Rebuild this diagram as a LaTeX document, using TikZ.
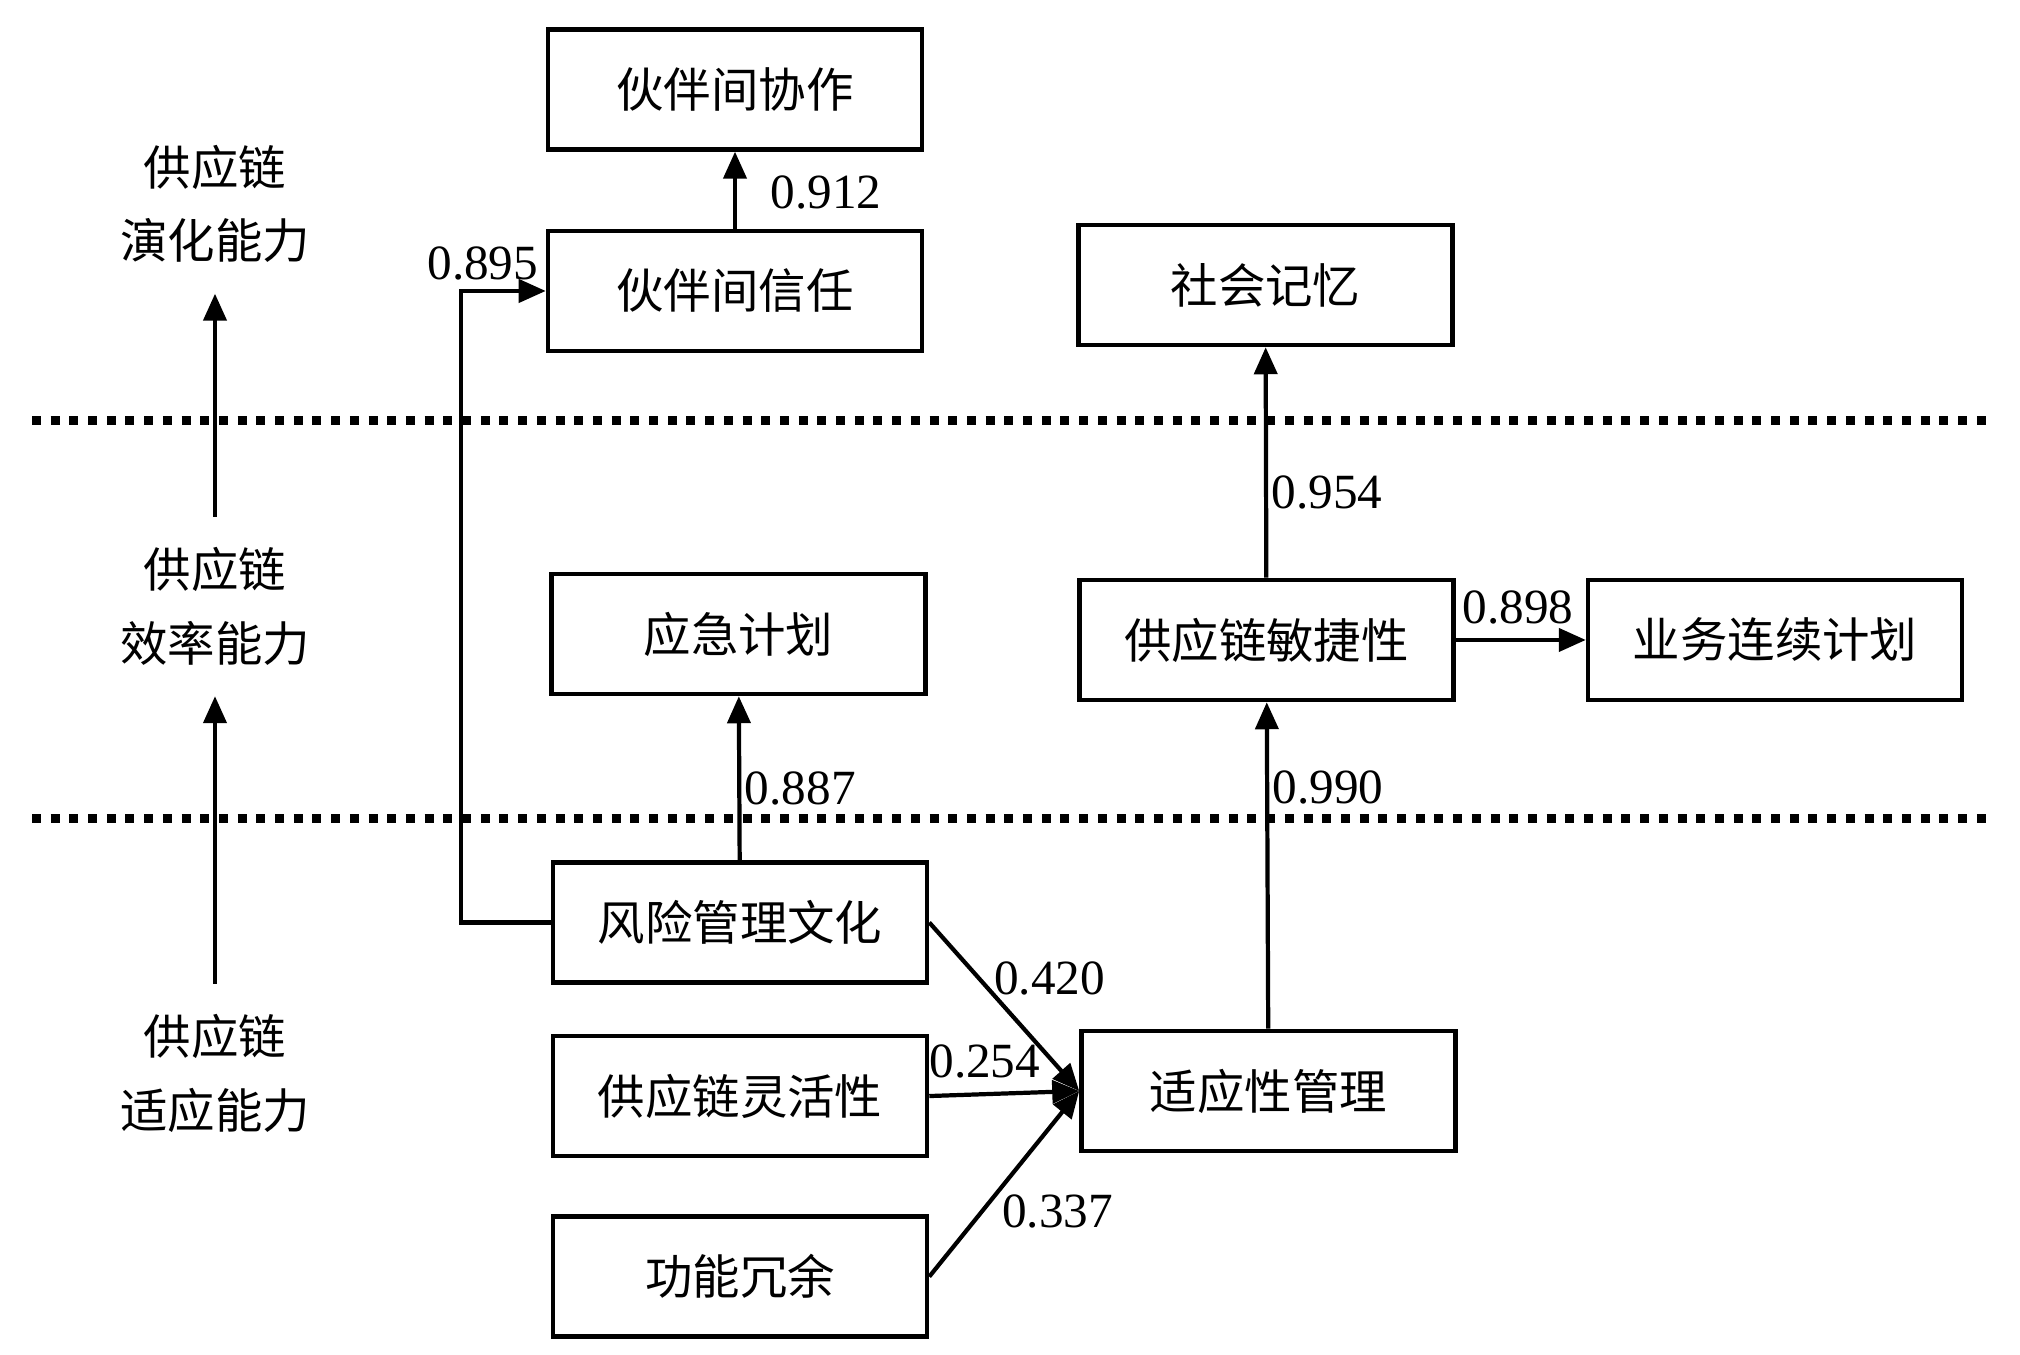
\documentclass[tikz,border=0pt]{standalone}
\usepackage{fontspec}
\setmainfont{Liberation Serif}
\newfontfamily\zh{Noto Sans CJK SC}
\usetikzlibrary{arrows.meta,positioning}

\begin{document}
\begin{tikzpicture}[
        box/.style={draw, line width=1.3pt, minimum width=3.74cm, minimum height=1.2cm, inner sep=0pt, font=\zh\fontsize{13.5}{16}\selectfont},
        lvl/.style={align=center, inner sep=0pt, font=\zh\fontsize{13.5}{21}\selectfont},
        num/.style={inner sep=1pt, font=\fontsize{14}{16}\selectfont},
        arr/.style={line width=1.2pt, -{Triangle[length=0.27cm,width=0.23cm]}},
        sep/.style={line width=0.09cm, dash pattern=on 0.09cm off 0.097cm},
        node distance=0.77cm
    ]
    \useasboundingbox (0,0) rectangle (20.2,13.55);
    \foreach \y in {9.34,5.36} {
        \draw[sep] (0.32,\y) -- (19.95,\y);
    }
    \node[lvl] (evo) at (2.15,11.51) {供应链\\演化能力};
    \node[lvl] (eff) at (2.15,7.485) {供应链\\效率能力};
    \node[lvl] (adp) at (2.15,2.815) {供应链\\适应能力};
    \draw[arr, shorten <=0.3cm, shorten >=0.3cm] (eff) -- (evo);
    \draw[arr, shorten <=0.3cm, shorten >=0.3cm] (adp) -- (eff);

    \node[box] (trust) at (7.35,10.64) {伙伴间信任};
    \node[box, above=of trust] (collab) {伙伴间协作};
    \node[box] (social) at (12.655,10.70) {社会记忆};
    \node[box] (emerg) at (7.385,7.21) {应急计划};
    \node[box] (agile) at (12.665,7.15) {供应链敏捷性};
    \node[box, right=1.3cm of agile] (bcp) {业务连续计划};
    \node[box] (culture) at (7.40,4.325) {风险管理文化};
    \node[box, below=0.49cm of culture] (flex) {供应链灵活性};
    \node[box, below=0.56cm of flex] (redund) {功能冗余};
    \node[box] (adapt) at (12.685,2.64) {适应性管理};

    \draw[arr] (trust) -- node[num, pos=.47, anchor=west, xshift=3mm] (w912) {0.912} (collab);
    \draw[arr] (culture.west) -- ++(-0.9,0) |- node[num, pos=.63, anchor=south, yshift=0.5mm] (w895) {0.895} (trust.west);
    \draw[arr] (agile) -- node[num, pos=.37, anchor=west] (w954) {0.954} (social);
    \draw[arr] (agile) -- node[num, pos=.48, anchor=south, yshift=1mm] (w898) {0.898} (bcp);
    \draw[arr] (culture) -- node[num, pos=.44, anchor=west] (w887) {0.887} (emerg);
    \draw[arr] (adapt) -- node[num, pos=.74, anchor=west] (w990) {0.990} (agile);
    \draw[arr] (culture.east) -- node[num, pos=.33, anchor=west, xshift=1mm] (w420) {0.420} (adapt.west);
    \draw[arr] (flex.east) -- node[num, pos=.37, anchor=south, yshift=1mm] (w254) {0.254} (adapt.west);
    \draw[arr] (redund.east) -- node[num, pos=.35, anchor=west, xshift=1.5mm] (w337) {0.337} (adapt.west);
\end{tikzpicture}
\end{document}
